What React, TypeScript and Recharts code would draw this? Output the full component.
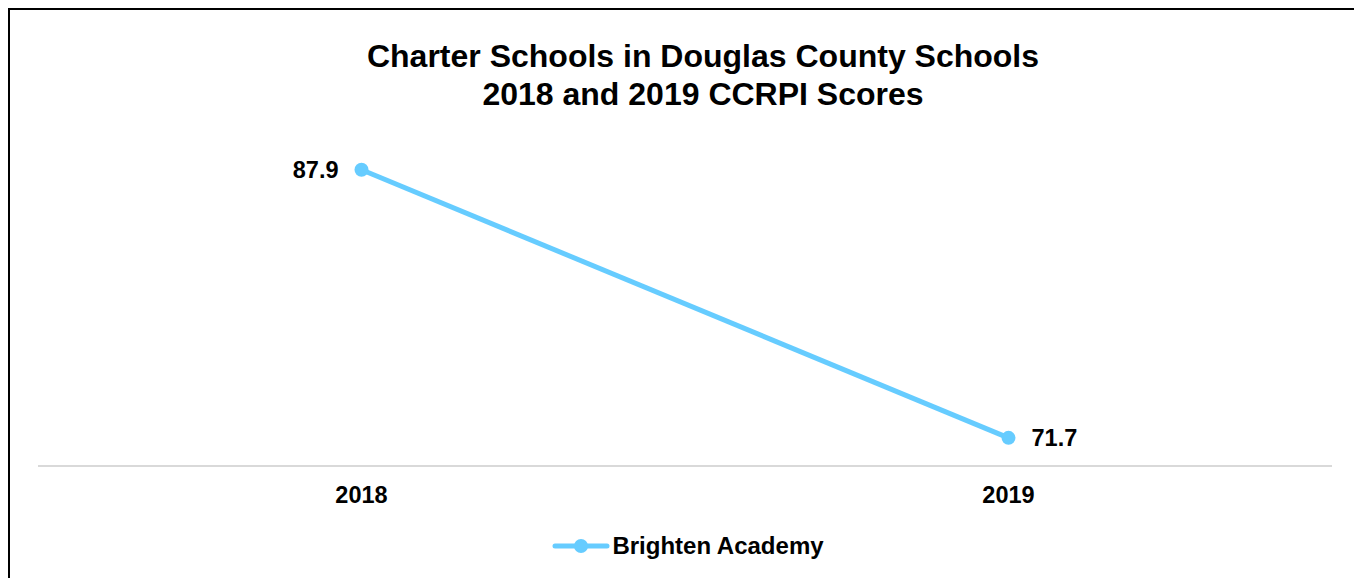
import React from 'react';
import { LineChart, Line, XAxis, YAxis, Legend, LabelList } from 'recharts';

const years = ['2018', '2019'];
const brightenScores = [87.9, 71.7];
const seriesName = 'Brighten Academy';
const titleLines = ['Charter Schools in Douglas County Schools', '2018 and 2019 CCRPI Scores'];

const data = years.map((y, i) => ({ year: y, brighten: brightenScores[i] }));

const FONT = '"Liberation Sans", Arial, Helvetica, sans-serif';
const COLOR = '#66CCFF';

const renderLabel = (props: any) => {
  const { x, y, value, index } = props;
  const left = index === 0;
  return (
    <text
      x={left ? x - 23 : x + 23}
      y={y}
      dy="0.36em"
      textAnchor={left ? 'end' : 'start'}
      fontFamily={FONT}
      fontWeight="bold"
      fontSize={23.5}
      fill="#000"
    >
      {value}
    </text>
  );
};

const renderLegend = () => (
  <div style={{ display: 'flex', justifyContent: 'center', alignItems: 'center', height: 40, paddingLeft: 10 }}>
    <svg width={58} height={16} style={{ marginRight: 2 }}>
      <line x1={3} y1={8} x2={55} y2={8} stroke={COLOR} strokeWidth={5} strokeLinecap="round" />
      <circle cx={29} cy={8} r={7} fill={COLOR} />
    </svg>
    <span style={{ fontFamily: FONT, fontWeight: 'bold', fontSize: 24, color: '#000' }}>{seriesName}</span>
  </div>
);

export default function App() {
  return (
    <div
      style={{
        position: 'relative',
        width: 1350,
        height: 580,
        border: '2px solid #000',
        boxSizing: 'border-box',
        background: '#fff',
      }}
    >
      <div
        style={{
          position: 'absolute',
          top: 27,
          left: 0,
          width: '100%',
          paddingLeft: 40,
          boxSizing: 'border-box',
          textAlign: 'center',
          fontFamily: FONT,
          fontWeight: 'bold',
          fontSize: 32,
          lineHeight: '38px',
          color: '#000',
        }}
      >
        {titleLines.map((t) => (
          <div key={t}>{t}</div>
        ))}
      </div>
      <LineChart width={1346} height={576} data={data} margin={{ top: 125, right: 24, left: 28, bottom: 0 }}>
        <XAxis
          dataKey="year"
          scale="band"
          height={80}
          tickLine={false}
          tickSize={0}
          tickMargin={20}
          axisLine={{ stroke: '#D9D9D9', strokeWidth: 2 }}
          tick={{ fontFamily: FONT, fontWeight: 'bold', fontSize: 23.5, fill: '#000' }}
        />
        <YAxis hide domain={[70, 90]} />
        <Legend
          verticalAlign="bottom"
          height={40}
          content={renderLegend}
          wrapperStyle={{ top: 516, left: 0, width: 1346 }}
        />
        <Line
          type="linear"
          dataKey="brighten"
          name={seriesName}
          stroke={COLOR}
          strokeWidth={5}
          dot={{ r: 7, fill: COLOR, stroke: COLOR, strokeWidth: 0 }}
          activeDot={false}
          isAnimationActive={false}
        >
          <LabelList dataKey="brighten" content={renderLabel} />
        </Line>
      </LineChart>
    </div>
  );
}
